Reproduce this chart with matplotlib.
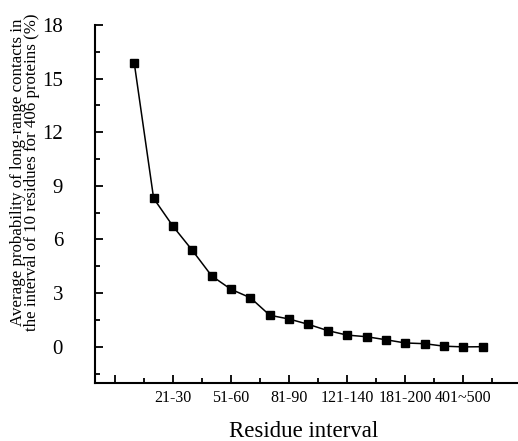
import numpy as np
import matplotlib
matplotlib.use("Agg")
import matplotlib.pyplot as plt
from matplotlib.ticker import FixedLocator

plt.rcParams['font.family'] = ['Liberation Serif', 'DejaVu Serif']

categories = ["1-10", "11-20", "21-30", "31-40", "41-50", "51-60", "61-70", "71-80",
              "81-90", "91-100", "101-120", "121-140", "141-160", "161-180",
              "181-200", "201-300", "301-400", "401~500", ">500"]
values = [15.86, 8.30, 6.74, 5.39, 3.96, 3.21, 2.74, 1.76, 1.55, 1.25,
          0.90, 0.65, 0.56, 0.39, 0.21, 0.17, 0.03, -0.01, 0.0]
tick_pos = [-1, 2, 5, 8, 11, 14, 17, 20]
tick_labels = ["", "21-30", "51-60", "81-90", "121-140", "181-200", "401~500", "-"]

fig = plt.figure(figsize=(5.18, 4.41), dpi=100)
ax = fig.add_axes([95/518, 58/441, (540.7-95)/518, (383-25)/441])

x = np.arange(len(categories))
ax.plot(x, values, color='black', lw=1.1, marker='s', markersize=5.2,
        markerfacecolor='black', markeredgecolor='black')

ax.set_xlim(-2.03, 21)
ax.set_ylim(-2.03, 18)

ax.spines['top'].set_visible(False)
ax.spines['right'].set_visible(False)
for s in ['left', 'bottom']:
    ax.spines[s].set_linewidth(1.5)

ax.yaxis.set_major_locator(FixedLocator([0, 3, 6, 9, 12, 15, 18]))
ax.yaxis.set_minor_locator(FixedLocator([-1.5, 1.5, 4.5, 7.5, 10.5, 13.5, 16.5]))
ax.set_xticks(tick_pos)
ax.set_xticklabels(tick_labels)
ax.xaxis.set_minor_locator(FixedLocator([p + 1.5 for p in tick_pos[:-1]]))

ax.tick_params(axis='both', which='major', direction='in', length=6, width=1.3)
ax.tick_params(axis='both', which='minor', direction='in', length=3.5, width=1.3)
ax.tick_params(axis='y', which='major', labelsize=15, pad=23)
ax.tick_params(axis='x', which='major', labelsize=11.5, pad=5)

ax.set_xlabel("Residue interval", fontsize=16.5)
ax.xaxis.set_label_coords((304 - 95) / 445.7, -0.105)
fig.text(25/518, 1 - 172/441,
         "Average probability of long-range contacts in\nthe interval of 10 residues for 406 proteins (%)",
         rotation=90, fontsize=12.2, ha='center', va='center', linespacing=0.84)

fig.savefig("out.png", dpi=100)
